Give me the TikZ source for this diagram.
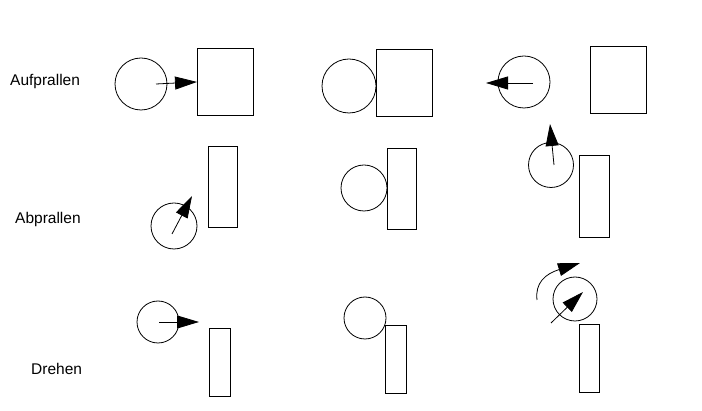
\documentclass[tikz,border=0pt]{standalone}
\usepackage{fontspec}
\setmainfont{Liberation Sans}
\usetikzlibrary{arrows.meta}
\begin{document}
\begin{tikzpicture}[x=1pt,y=-1pt,
  ball/.style={draw,circle,line width=0.8pt,inner sep=0pt},
  block/.style={draw,rectangle,line width=0.9pt,inner sep=0pt,anchor=north west},
  push/.style={line width=0.8pt,-{Triangle[length=22pt,width=13pt]}},
  lbl/.style={anchor=west,inner sep=0pt,font=\fontsize{15.5}{18}\selectfont}]
\useasboundingbox (0,0) rectangle (702,411);
% labels
\node[lbl] (l1) at (10,81) {Aufprallen};
\node[lbl] (l2) at (15,219) {Abprallen};
\node[lbl] (l3) at (31,369) {Drehen};
% row 1
\node[ball,minimum size=52pt] (c11) at (141,84) {};
\node[block,minimum width=56pt,minimum height=67pt] (r11) at (197,48) {};
\coordinate (s11) at (156,84);
\draw[push] (s11) -- (r11.west);
\node[ball,minimum size=54pt] (c12) at (349,86) {};
\node[block,minimum width=56pt,minimum height=67pt] (r12) at (376,49) {};
\node[ball,minimum size=52pt] (c13) at (524,82) {};
\node[block,minimum width=56pt,minimum height=67pt] (r13) at (590,46) {};
\coordinate (s13) at (533,83);
\coordinate (t13) at (486,83);
\draw[push] (s13) -- (t13);
% row 2
\node[ball,minimum size=46pt] (c21) at (174,226) {};
\node[block,minimum width=29pt,minimum height=81pt] (r21) at (208,146) {};
\coordinate (s21) at (172,234);
\coordinate (t21) at (192,196);
\draw[push] (s21) -- (t21);
\node[ball,minimum size=46pt] (c22) at (364,188) {};
\node[block,minimum width=29pt,minimum height=81pt] (r22) at (387,148) {};
\node[ball,minimum size=45pt] (c23) at (551,165) {};
\node[block,minimum width=30pt,minimum height=82pt] (r23) at (579,155) {};
\coordinate (s23) at (554,165);
\coordinate (t23) at (550,124);
\draw[push] (s23) -- (t23);
% row 3
\node[ball,minimum size=42pt] (c31) at (158,322) {};
\node[block,minimum width=21pt,minimum height=68pt] (r31) at (209,328) {};
\coordinate (s31) at (159,322);
\coordinate (t31) at (199,322);
\draw[push] (s31) -- (t31);
\node[ball,minimum size=42pt] (c32) at (365,318) {};
\node[block,minimum width=21pt,minimum height=68pt] (r32) at (385,325) {};
\node[ball,minimum size=44pt] (c33) at (575,299) {};
\node[block,minimum width=20pt,minimum height=68pt] (r33) at (579,324) {};
\coordinate (s33) at (551,323);
\coordinate (t33) at (583,292);
\draw[push] (s33) -- (t33);
\coordinate (a33) at (537,300);
\coordinate (b33) at (580,263);
\draw[push] (a33) .. controls (535,283) and (545,274) .. (b33);
\end{tikzpicture}
\end{document}
